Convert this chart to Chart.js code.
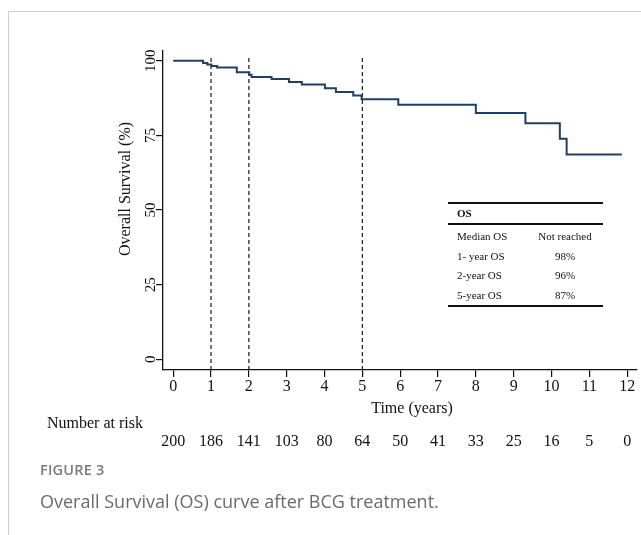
<!DOCTYPE html>
<html>
<head>
<meta charset="utf-8">
<script src="https://cdn.jsdelivr.net/npm/chart.js@4.4.1/dist/chart.umd.min.js"></script>
<style>
  body { margin: 0; background: #fff; width: 641px; height: 535px; overflow: hidden; position: relative; }
  #frame { position: absolute; left: 8px; top: 11px; right: 0; bottom: 0; border-left: 1px solid #cfcfcf; border-top: 1px solid #cfcfcf; }
  #grafica { position: absolute; left: 0; top: 0; }
  #tabla { position: absolute; left: 448px; top: 202px; width: 155px; border-top: 2.5px solid #111; border-bottom: 2.5px solid #111;
           font: 11px "Liberation Serif", serif; color: #111; }
  #tabla .cab { height: 19px; line-height: 19px; border-bottom: 2px solid #111; font-weight: bold; padding-left: 9px; }
  #tabla .filas { padding-top: 2px; }
  #tabla .fila { height: 19.5px; line-height: 19.5px; position: relative; }
  #tabla .fila span { position: absolute; }
  #pie1 { position: absolute; left: 40px; top: 460px; font: 600 14.5px "Open Sans", sans-serif; color: #7a7a7a; letter-spacing: 0.2px; }
  #pie2 { position: absolute; left: 40px; top: 489px; font: 18px "Open Sans", sans-serif; color: #6a6a6a; }
</style>
</head>
<body>
<div id="frame"></div>
<canvas id="grafica" width="641" height="535"></canvas>
<div id="tabla"></div>
<div id="pie1">FIGURE 3</div>
<div id="pie2">Overall Survival (OS) curve after BCG treatment.</div>
<script>
// curva de supervivencia (Kaplan-Meier)
const anios = [0, 0.79, 0.90, 1.01, 1.16, 1.68, 2.01, 2.07, 2.60, 3.06, 3.40, 4.01, 4.30, 4.76, 4.98, 5.95, 8.00, 9.31, 10.22, 10.40, 11.86];
const supervivencia = [100, 99.3, 98.8, 98.3, 97.8, 96.2, 95.3, 94.6, 93.9, 92.9, 92.1, 90.8, 89.6, 88.4, 87.1, 85.3, 82.5, 79.1, 73.9, 68.6, 68.6];

const aniosTicks = [0, 1, 2, 3, 4, 5, 6, 7, 8, 9, 10, 11, 12];
const enRiesgo = [200, 186, 141, 103, 80, 64, 50, 41, 33, 25, 16, 5, 0];
const yTicks = [0, 25, 50, 75, 100];
const marcas = [1, 2, 5];

const tablaEtiquetas = ['Median OS', '1- year OS', '2-year OS', '5-year OS'];
const tablaValores = ['Not reached', '98%', '96%', '87%'];

// tabla OS
var tabla = document.getElementById('tabla');
var html = '<div class="cab">OS</div><div class="filas">';
for (var i = 0; i < tablaEtiquetas.length; i++) {
    html += '<div class="fila"><span style="left:9px">' + tablaEtiquetas[i] + '</span>' +
            '<span style="left:88px;width:58px;text-align:center">' + tablaValores[i] + '</span></div>';
}
tabla.innerHTML = html + '</div>';

const serif = 'Liberation Serif';
const yMin = -3.6, yMax = 103.3;

const datasets = [{
    data: anios.map((t, i) => ({ x: t, y: supervivencia[i] })),
    borderColor: '#203f66',
    borderWidth: 2,
    stepped: true,
    pointRadius: 0,
    fill: false
}];
marcas.forEach(m => {
    datasets.push({
        data: [{ x: m, y: yMin }, { x: m, y: 101.4 }],
        borderColor: '#2a2a2a',
        borderWidth: 1.3,
        borderDash: [4, 3],
        pointRadius: 0,
        fill: false
    });
});

const textos = {
    id: 'textos',
    afterDraw(chart) {
        const ctx = chart.ctx;
        const xs = chart.scales.x;
        ctx.save();
        ctx.fillStyle = '#111';
        ctx.font = '16px "' + serif + '"';
        ctx.textBaseline = 'middle';
        ctx.textAlign = 'center';
        ctx.fillText('Time (years)', 412, 409);
        ctx.textAlign = 'left';
        ctx.fillText('Number at risk', 47, 424);
        ctx.textAlign = 'center';
        enRiesgo.forEach((n, i) => {
            ctx.fillText(String(n), xs.getPixelForValue(aniosTicks[i]), 442);
        });
        ctx.translate(126, 189);
        ctx.rotate(-Math.PI / 2);
        ctx.fillText('Overall Survival (%)', 0, 0);
        ctx.restore();
    }
};

new Chart(document.getElementById('grafica').getContext('2d'), {
    type: 'line',
    data: { datasets: datasets },
    options: {
        responsive: false,
        animation: false,
        events: [],
        layout: { padding: { left: 0, top: 51, right: 4, bottom: 0 } },
        plugins: { legend: { display: false }, tooltip: { enabled: false } },
        scales: {
            x: {
                type: 'linear',
                min: -0.27,
                max: 12.26,
                afterBuildTicks: s => { s.ticks = aniosTicks.map(v => ({ value: v })); },
                afterFit: s => { s.height = 165; },
                ticks: { font: { family: serif, size: 16 }, color: '#111', padding: 0, maxRotation: 0, autoSkip: false },
                grid: { drawOnChartArea: false, drawTicks: true, tickLength: 7, color: '#111', lineWidth: 1.2 },
                border: { color: '#111', width: 1.3 }
            },
            y: {
                type: 'linear',
                min: yMin,
                max: yMax,
                afterBuildTicks: s => { s.ticks = yTicks.map(v => ({ value: v })); },
                afterFit: s => { s.width = 163; },
                ticks: { font: { family: serif, size: 15 }, color: '#111', padding: -6, minRotation: 90, maxRotation: 90, crossAlign: 'center', autoSkip: false },
                grid: { drawOnChartArea: false, drawTicks: true, tickLength: 7, color: '#111', lineWidth: 1.2 },
                border: { color: '#111', width: 1.3 }
            }
        }
    },
    plugins: [textos]
});
</script>
</body>
</html>
